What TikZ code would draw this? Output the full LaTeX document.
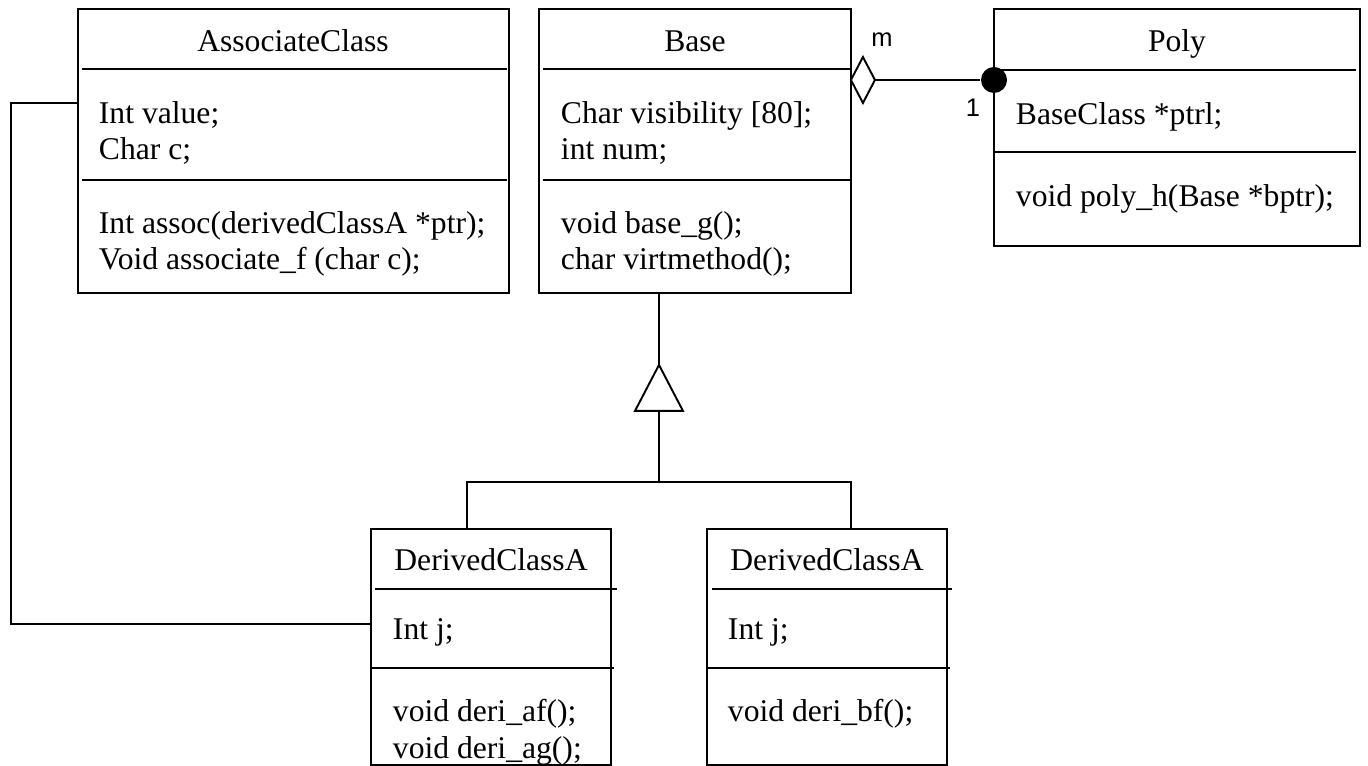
\documentclass[tikz,border=0pt]{standalone}
\usepackage{fontspec}
\setmainfont{Liberation Serif}
\newfontfamily\multfont{Liberation Sans}
\usepackage{tikz}
\usetikzlibrary{positioning}

\begin{document}
\begin{tikzpicture}[x=0.02cm,y=-0.02cm,line width=1.1pt,
    cls/.style={draw,rectangle,anchor=north west,inner sep=0pt,outer sep=0pt},
    txt/.style={anchor=base west,inner sep=0pt,font=\fontsize{18}{21}\selectfont},
    head/.style={anchor=base,inner sep=0pt,font=\fontsize{18}{21}\selectfont},
    mult/.style={inner sep=0pt,font=\multfont\fontsize{14.5}{17}\selectfont}]
    \useasboundingbox (0,0) rectangle (1368,766);
    % class boxes
    \node [cls,minimum width=8.62cm,minimum height=5.68cm] (assoc) at (78,9) {};
    \node [cls,minimum width=6.24cm,minimum height=5.68cm] (base) at (539,9) {};
    \node [cls,minimum width=7.32cm,minimum height=4.74cm] (poly) at (994,9) {};
    \node [cls,minimum width=4.8cm,minimum height=4.72cm] (derA) at (371,529) {};
    \node [cls,minimum width=4.8cm,minimum height=4.72cm] (derB) at (707,529) {};
    % compartments
    \draw (assoc.north west) ++(4,60) -- ++(425,0);
    \draw (assoc.north west) ++(4,171) -- ++(425,0);
    \draw (base.north west) ++(4,60) -- ++(308,0);
    \draw (base.north west) ++(4,171) -- ++(308,0);
    \draw (poly.north west) ++(0,61) -- ++(362,0);
    \draw (poly.north west) ++(0,143) -- ++(362,0);
    \draw (derA.north west) ++(4,60) -- ++(242,0);
    \draw (derA.north west) ++(1,139) -- ++(242,0);
    \draw (derB.north west) ++(5,60) -- ++(240,0);
    \draw (derB.north west) ++(1,139) -- ++(242,0);
    % names
    \node [head] (assocname) at (293,52) {AssociateClass};
    \node [head] (basename) at (695,52) {Base};
    \node [head] (polyname) at (1177,52) {Poly};
    \node [head] (derAname) at (491,570) {DerivedClassA};
    \node [head] (derBname) at (827,570) {DerivedClassA};
    % members
    \node [txt] (avalue) at (98,124) {Int value;};
    \node [txt] (achar) at (98,160) {Char c;};
    \node [txt] (aassoc) at (98,234) {Int assoc(derivedClassA *ptr);};
    \node [txt] (afunc) at (98,270) {Void associate\_f (char c);};
    \node [txt] (bvis) at (560,124) {Char visibility [80];};
    \node [txt] (bnum) at (560,160) {int num;};
    \node [txt] (bfunc) at (560,234) {void base\_g();};
    \node [txt] (bvirt) at (560,270) {char virtmethod();};
    \node [txt] (pptr) at (1015,125) {BaseClass *ptrl;};
    \node [txt] (pfunc) at (1015,207) {void poly\_h(Base *bptr);};
    \node [txt] (daj) at (392,639) {Int j;};
    \node [txt] (daf) at (392,721) {void deri\_af();};
    \node [txt] (dag) at (392,758) {void deri\_ag();};
    \node [txt] (dbj) at (727,639) {Int j;};
    \node [txt] (dbf) at (727,721) {void deri\_bf();};
    % association
    \draw ([yshift=-1.88cm]assoc.north west) -- ++(-67,0) |- ([yshift=-1.9cm]derA.north west);
    % generalization
    \coordinate (gen) at ([xshift=-0.72cm,yshift=-1.44cm]base.south);
    \draw (base.south -| gen) -- (gen);
    \draw (gen) -- ++(-24,46) -- ++(48,0) -- cycle;
    \draw (gen) ++(0,46) -- ++(0,71) coordinate (fork);
    \draw ([xshift=-0.48cm]derA.north) |- (fork) -| ([xshift=0.48cm]derB.north);
    % aggregation
    \coordinate (agg) at ([yshift=-1.42cm]base.north east);
    \node [circle,fill,minimum size=0.52cm,inner sep=0pt] (dot) at (poly.west |- agg) {};
    \draw (agg) -- ++(12,-23) -- ++(12,23) coordinate (tip) -- ++(-12,23) -- cycle;
    \draw (tip) -- (dot);
    \node [mult] (m) at (882,40) {m};
    \node [mult] (one) at (973,108) {1};
\end{tikzpicture}
\end{document}
